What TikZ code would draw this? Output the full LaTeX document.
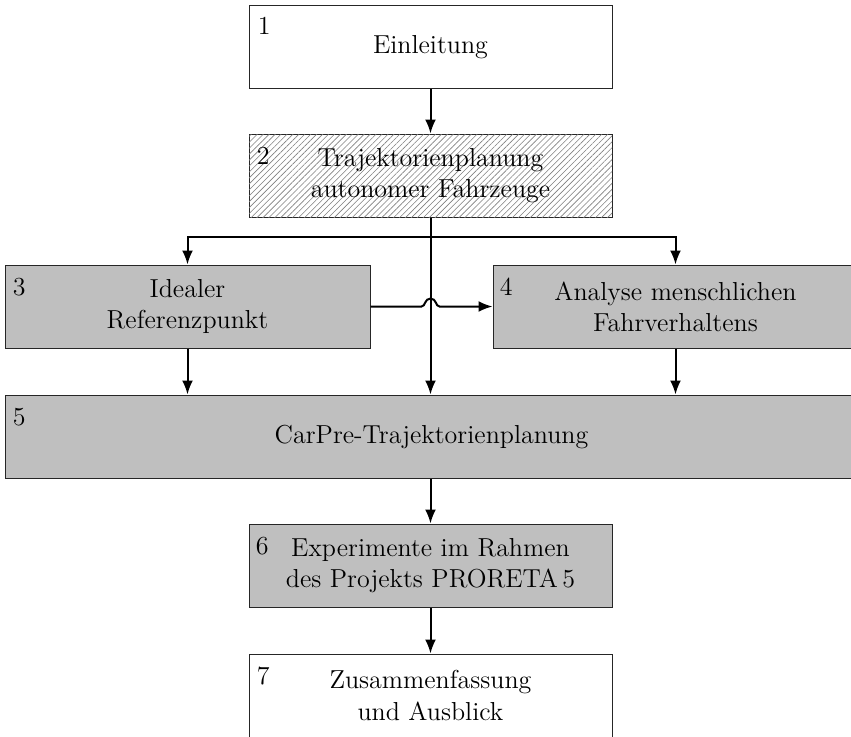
\documentclass[tikz,border=0pt]{standalone}
\usetikzlibrary{arrows.meta,patterns.meta,calc}
\begin{document}
\begin{tikzpicture}[x=0.5pt,y=-0.5pt,
  box/.style={draw=black!85, line width=0.5pt, rectangle, inner sep=0pt, align=center,
    minimum width=181.5pt, minimum height=41.5pt, font=\fontsize{13}{15.6}\selectfont},
  wide/.style={minimum width=182.5pt},
  graybox/.style={fill=black!25},
  hatch/.style={fill=white, postaction={pattern={Lines[angle=45,distance=2.1pt,line width=0.3pt]}, pattern color=black!50}},
  num/.style={anchor=north west, inner sep=0pt, font=\fontsize{13}{15.6}\selectfont},
  ln/.style={line width=1pt},
  arr/.style={line width=1pt, -{Latex[length=7pt,width=5.5pt]}}]
\useasboundingbox (0,0) rectangle (851,736);
\clip (0,0) rectangle (851,736);

\node[box] (n1) at (430.5,47) {Einleitung};
\node[box,hatch] (n2) at (430.5,175.5) {Trajektorienplanung\\autonomer Fahrzeuge};
\node[box,wide,graybox] (n3) at (187.5,306.5) {Idealer\\Referenzpunkt};
\node[box,wide,graybox] (n4) at (675.5,306.5) {Analyse menschlichen\\Fahrverhaltens};
\node[box,graybox,minimum width=426.5pt] (n5) at (431.5,436.5) {CarPre-Trajektorienplanung};
\node[box,graybox] (n6) at (430.5,565.5) {Experimente im Rahmen\\des Projekts PRORETA\,5};
\node[box] (n7) at (430.5,695.5) {Zusammenfassung\\und Ausblick};

\node[num] (l1) at ($(n1.north west)+(9,12)$) {1};
\node[num] (l2) at ($(n2.north west)+(8,13)$) {2};
\node[num] (l3) at ($(n3.north west)+(8,13)$) {3};
\node[num] (l4) at ($(n4.north west)+(7,13)$) {4};
\node[num] (l5) at ($(n5.north west)+(8,13)$) {5};
\node[num] (l6) at ($(n6.north west)+(7,13)$) {6};
\node[num] (l7) at ($(n7.north west)+(8,13)$) {7};

\coordinate (split) at (n2.south |- 0,237);
\coordinate (cross) at (split |- n3.east);

\draw[arr] (n1.south) -- (n2.north);
\draw[ln] (n2.south) -- (split);
\draw[arr] (split) -| (n3.north);
\draw[arr] (split) -| (n4.north);
\draw[arr] (split) -- (split |- n5.north);
\draw[arr] (n3.east) -- ($(cross)+(-9,0)$)
  .. controls ($(cross)+(-5,0)$) and ($(cross)+(-6,-8)$) .. ($(cross)+(0,-8)$)
  .. controls ($(cross)+(6,-8)$) and ($(cross)+(5,0)$) .. ($(cross)+(9,0)$)
  -- (n4.west);
\draw[arr] (n3.south) -- (n3.south |- n5.north);
\draw[arr] (n4.south) -- (n4.south |- n5.north);
\draw[arr] (n5.south -| split) -- (split |- n6.north);
\draw[arr] (n6.south) -- (n7.north);
\end{tikzpicture}
\end{document}
